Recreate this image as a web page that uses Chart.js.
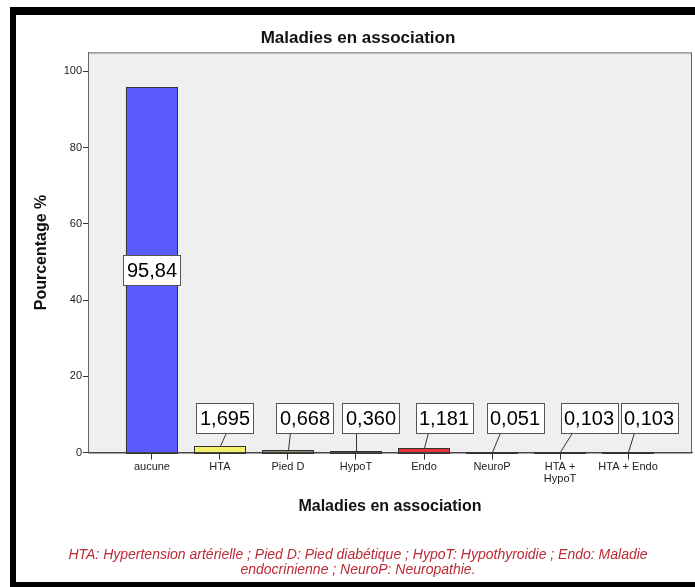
<!DOCTYPE html>
<html>
<head>
<meta charset="utf-8">
<title>Maladies en association</title>
<script src="https://cdn.jsdelivr.net/npm/chart.js@4.4.1/dist/chart.umd.min.js"></script>
<style>
  html, body { margin: 0; padding: 0; background: #fff; overflow: hidden; }
  canvas { display: block; }
</style>
</head>
<body>
<canvas id="chart" width="695" height="587"></canvas>
<script>
// Categories, percentages and tick values
const categories = ['aucune', 'HTA', 'Pied D', 'HypoT', 'Endo', 'NeuroP', ['HTA +', 'HypoT'], 'HTA + Endo'];
const percentages = [95.84, 1.695, 0.668, 0.360, 1.181, 0.051, 0.103, 0.103];
const barColors = ['#5b5cff', '#f3f06c', '#8b8a6c', '#3a3a3a', '#e5323a', '#2e2e2e', '#2e2e2e', '#2e2e2e'];
const yTickValues = [0, 20, 40, 60, 80, 100];
const footnote = [
  'HTA: Hypertension artérielle ; Pied D: Pied diabétique ; HypoT: Hypothyroidie ; Endo: Maladie',
  'endocrinienne ; NeuroP: Neuropathie.'
];

const FONT = '"Liberation Sans", Arial, Helvetica, sans-serif';

function formatValue(v) {
  return v.toFixed(v >= 10 ? 2 : 3).replace('.', ',');
}

// Page frame and grey plot panel
const framePlugin = {
  id: 'frame',
  beforeDraw(chart) {
    const { ctx, chartArea: a, width, height } = chart;
    ctx.save();
    ctx.fillStyle = '#ffffff';
    ctx.fillRect(0, 0, width, height);
    ctx.fillStyle = '#000000';
    ctx.fillRect(10, 7, width - 10, height - 7);
    ctx.fillStyle = '#ffffff';
    ctx.fillRect(16, 15, width - 16, 567);
    ctx.fillStyle = '#efefef';
    ctx.fillRect(a.left, a.top, a.right - a.left, a.bottom - a.top);
    ctx.strokeStyle = '#666666';
    ctx.lineWidth = 1;
    ctx.strokeRect(a.left + 0.5, a.top + 0.5, a.right - a.left - 1, a.bottom - a.top);
    ctx.restore();
  }
};

// Bar outlines and boxed value labels with leader lines
const calloutPlugin = {
  id: 'callouts',
  afterDatasetsDraw(chart, args, opts) {
    const { ctx } = chart;
    const meta = chart.getDatasetMeta(0);
    const base = Math.round(chart.scales.y.getPixelForValue(0));
    ctx.save();
    ctx.lineWidth = 1;
    ctx.strokeStyle = '#333333';
    meta.data.forEach((bar) => {
      const left = Math.round(bar.x - bar.width / 2) + 0.5;
      const topPx = Math.min(Math.round(bar.y), base - 1);
      const w = Math.round(bar.width) - 1;
      ctx.strokeRect(left, topPx + 0.5, w, base - topPx);
    });

    ctx.font = '20px ' + FONT;
    ctx.textAlign = 'center';
    ctx.textBaseline = 'middle';
    const boxH = 30;
    meta.data.forEach((bar, i) => {
      const text = formatValue(percentages[i]);
      const boxW = Math.round(ctx.measureText(text).width) + 7;
      const shift = opts.shift[i];
      let cx, cy;
      if (shift === null) {
        cx = bar.x;
        cy = (bar.y + base) / 2;
      } else {
        cx = bar.x + shift;
        cy = base - opts.lift - boxH / 2;
        ctx.strokeStyle = '#333333';
        ctx.beginPath();
        ctx.moveTo(Math.round(bar.x) + 0.5, bar.y);
        ctx.lineTo(Math.round(bar.x + opts.leader[i]) + 0.5, cy + boxH / 2);
        ctx.stroke();
      }
      const bx = Math.round(cx - boxW / 2) + 0.5;
      const by = Math.round(cy - boxH / 2) + 0.5;
      ctx.fillStyle = '#ffffff';
      ctx.fillRect(bx, by, boxW, boxH);
      ctx.strokeStyle = '#555555';
      ctx.strokeRect(bx, by, boxW, boxH);
      ctx.fillStyle = '#000000';
      ctx.fillText(text, Math.round(cx), Math.round(cy) + 1);
    });
    ctx.restore();
  }
};

new Chart(document.getElementById('chart'), {
  type: 'bar',
  data: {
    datasets: [{
      data: percentages.map((v, i) => ({ x: i, y: v })),
      backgroundColor: barColors,
      borderWidth: 0,
      categoryPercentage: 1,
      barPercentage: 0.765
    }]
  },
  plugins: [framePlugin, calloutPlugin],
  options: {
    responsive: false,
    animation: false,
    devicePixelRatio: 1,
    layout: { padding: { left: 24, right: 3, top: 14, bottom: 10 } },
    plugins: {
      legend: { display: false },
      tooltip: { enabled: false },
      title: {
        display: true,
        text: 'Maladies en association',
        color: '#111111',
        font: { family: FONT, size: 17, weight: 'bold', lineHeight: 1.2 },
        padding: { top: 14, bottom: 4 }
      },
      subtitle: {
        display: true,
        position: 'bottom',
        text: footnote,
        color: '#bc2a36',
        font: { family: FONT, size: 14, style: 'italic', lineHeight: 1.05 },
        padding: { top: 0, bottom: 0 }
      },
      callouts: {
        shift: [null, 5, 17, 15, 20, 23, 29, 21],
        leader: [0, 6, 2, 0, 4, 8, 12, 6],
        lift: 20
      }
    },
    scales: {
      x: {
        type: 'linear',
        min: -0.94,
        max: 7.94,
        offset: false,
        afterBuildTicks: (s) => { s.ticks = categories.map((_, i) => ({ value: i })); },
        afterFit: (s) => { s.height = 95; },
        ticks: {
          callback: (value, index) => categories[index],
          color: '#222222',
          font: { family: FONT, size: 11, lineHeight: 1.05 },
          padding: 2,
          maxRotation: 0,
          autoSkip: false
        },
        grid: { display: true, offset: false, drawOnChartArea: false, drawTicks: true, tickLength: 7, color: '#333333' },
        border: { display: true, color: '#444444' },
        title: {
          display: true,
          text: 'Maladies en association',
          color: '#111111',
          font: { family: FONT, size: 16, weight: 'bold', lineHeight: 1.2 },
          padding: { top: 0, bottom: 31 }
        }
      },
      y: {
        min: 0,
        max: 105,
        afterBuildTicks: (s) => { s.ticks = yTickValues.map((v) => ({ value: v })); },
        afterFit: (s) => { s.width = 64; },
        ticks: {
          color: '#222222',
          font: { family: FONT, size: 11 },
          padding: 1
        },
        grid: { display: true, drawOnChartArea: false, drawTicks: true, tickLength: 5, color: '#333333' },
        border: { display: true, color: '#666666' },
        title: {
          display: true,
          text: 'Pourcentage %',
          color: '#111111',
          font: { family: FONT, size: 16, weight: 'bold', lineHeight: 1.2 },
          padding: { top: 8, bottom: 0 }
        }
      }
    }
  }
});
</script>
</body>
</html>
